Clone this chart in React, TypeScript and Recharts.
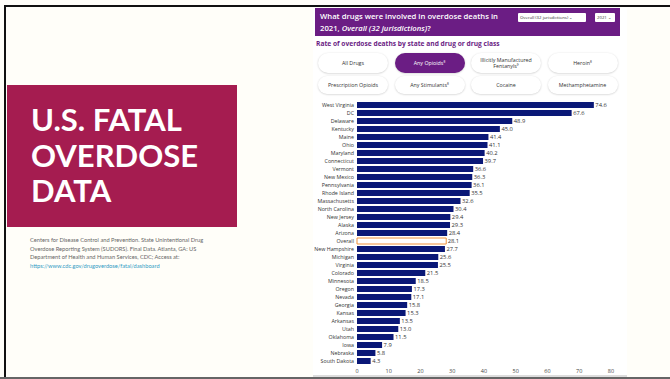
import React from "react";
import { BarChart, Bar, XAxis, YAxis, Cell, LabelList } from "recharts";

const states = [
  "West Virginia", "DC", "Delaware", "Kentucky", "Maine", "Ohio", "Maryland",
  "Connecticut", "Vermont", "New Mexico", "Pennsylvania", "Rhode Island",
  "Massachusetts", "North Carolina", "New Jersey", "Alaska", "Arizona", "Overall",
  "New Hampshire", "Michigan", "Virginia", "Colorado", "Minnesota", "Oregon",
  "Nevada", "Georgia", "Kansas", "Arkansas", "Utah", "Oklahoma", "Iowa",
  "Nebraska", "South Dakota",
];

const rates = [
  74.6, 67.6, 48.9, 45.0, 41.4, 41.1, 40.2, 39.7, 36.6, 36.3, 36.1, 35.5, 32.6,
  30.4, 29.4, 29.3, 28.4, 28.1, 27.7, 25.6, 25.5, 21.5, 18.5, 17.3, 17.1, 15.8,
  15.3, 13.5, 13.0, 11.5, 7.9, 5.8, 4.3,
];

const xTicks = [0, 10, 20, 30, 40, 50, 60, 70, 80];

const buttons = [
  ["All Drugs", "Any Opioids⁸", "Illicitly Manufactured\nFentanyls⁹", "Heroin⁸"],
  ["Prescription Opioids", "Any Stimulants⁸", "Cocaine", "Methamphetamine"],
];

const data = states.map((s, i) => ({ state: s, rate: rates[i] }));

const NAVY = "#0a1877";
const PURPLE = "#6b1d84";

const StateTick = ({ x, y, payload }: any) => (
  <text x={x} y={y} dy={2} textAnchor="end" fontSize={5.3} fill="#333">
    {payload.value}
  </text>
);

export default function App() {
  return (
    <div
      style={{
        position: "fixed",
        left: 0,
        top: 0,
        width: 670,
        height: 379,
        background: "#fffef9",
        overflow: "hidden",
        fontFamily: "'Open Sans', sans-serif",
      }}
    >
      {/* slide frame */}
      <div style={{ position: "absolute", left: 4, top: 5, width: 666, height: 2, background: "#111" }} />
      <div style={{ position: "absolute", left: 4, top: 5, width: 2, height: 372, background: "#111" }} />
      <div style={{ position: "absolute", left: 0, top: 377, width: 670, height: 2, background: "#666" }} />

      {/* title block */}
      <div
        style={{
          position: "absolute",
          left: 7,
          top: 85,
          width: 230,
          height: 142,
          background: "#a51c50",
        }}
      />
      <div
        style={{
          position: "absolute",
          left: 31,
          top: 102,
          color: "#fff",
          fontFamily: "Lato, sans-serif",
          fontWeight: 700,
          fontSize: 31,
          lineHeight: "35.5px",
        }}
      >
        U.S. FATAL
        <br />
        OVERDOSE
        <br />
        DATA
      </div>
      <div
        style={{
          position: "absolute",
          left: 30,
          top: 236,
          width: 200,
          color: "#666",
          fontFamily: "Lato, sans-serif",
          fontSize: 5.7,
          lineHeight: "8.7px",
        }}
      >
        Centers for Disease Control and Prevention. State Unintentional Drug
        <br />
        Overdose Reporting System (SUDORS). Final Data. Atlanta, GA: US
        <br />
        Department of Health and Human Services, CDC; Access at:
        <br />
        <span style={{ color: "#2f9bc4" }}>https://www.cdc.gov/drugoverdose/fatal/dashboard</span>
      </div>

      {/* dashboard screenshot */}
      <div style={{ position: "absolute", left: 313, top: 8, width: 314, height: 369, background: "#fff" }} />
      <div style={{ position: "absolute", left: 313, top: 375, width: 314, height: 2, background: "#ddd" }} />
      <div
        style={{
          position: "absolute",
          left: 315,
          top: 8,
          width: 305,
          height: 28,
          background: PURPLE,
        }}
      />
      <div
        style={{
          position: "absolute",
          left: 320,
          top: 9.5,
          color: "#fff",
          fontSize: 7.7,
          fontWeight: 600,
          lineHeight: "12.5px",
          whiteSpace: "nowrap",
        }}
      >
        What drugs were involved in overdose deaths in
        <br />
        2021, <i>Overall (32 jurisdictions)</i>?
      </div>
      <div
        style={{
          position: "absolute",
          left: 518,
          top: 13,
          width: 68,
          height: 9,
          background: "#fff",
          borderRadius: 1,
          fontSize: 4.3,
          lineHeight: "9px",
          color: "#333",
          paddingLeft: 2,
          boxSizing: "border-box",
          whiteSpace: "nowrap",
        }}
      >
        Overall (32 jurisdictions) ⌄
      </div>
      <div
        style={{
          position: "absolute",
          left: 595,
          top: 13,
          width: 20,
          height: 9,
          background: "#fff",
          borderRadius: 1,
          fontSize: 4.3,
          lineHeight: "9px",
          color: "#333",
          paddingLeft: 2,
          boxSizing: "border-box",
        }}
      >
        2021 ⌄
      </div>
      <div
        style={{
          position: "absolute",
          left: 316,
          top: 39,
          color: PURPLE,
          fontSize: 6.65,
          fontWeight: 700,
          whiteSpace: "nowrap",
          lineHeight: "10px",
        }}
      >
        Rate of overdose deaths by state and drug or drug class
      </div>
      {buttons.map((row, r) =>
        row.map((label, c) => {
          const active = r === 0 && c === 1;
          return (
            <div
              key={label}
              style={{
                position: "absolute",
                left: 318 + c * 76.5,
                top: r === 0 ? 53 : 76,
                width: 70,
                height: r === 0 ? 20 : 18,
                borderRadius: 10,
                background: active ? PURPLE : "#fff",
                color: active ? "#fff" : "#333",
                boxShadow: "0 0.5px 2px rgba(0,0,0,0.2)",
                fontSize: 5.3,
                lineHeight: "6.5px",
                display: "flex",
                alignItems: "center",
                justifyContent: "center",
                textAlign: "center",
                whiteSpace: "pre-line",
              }}
            >
              {label}
            </div>
          );
        })
      )}

      <div style={{ position: "absolute", left: 300, top: 92 }}>
        <BarChart
          width={327}
          height={285}
          data={data}
          layout="vertical"
          margin={{ top: 9, right: 16, bottom: 0, left: 0 }}
        >
          <XAxis
            type="number"
            domain={[0, 80]}
            ticks={xTicks}
            axisLine={false}
            tickLine={false}
            tickSize={0}
            tickMargin={4}
            height={12}
            tick={{ fontSize: 5.5, fill: "#444" }}
            interval={0}
          />
          <YAxis
            type="category"
            dataKey="state"
            width={57}
            axisLine={false}
            tickLine={false}
            tickSize={0}
            tickMargin={3}
            interval={0}
            tick={<StateTick />}
          />
          <Bar dataKey="rate" barSize={6} isAnimationActive={false}>
            {data.map((d) => (
              <Cell
                key={d.state}
                fill={d.state === "Overall" ? "#fff" : NAVY}
                stroke={d.state === "Overall" ? "#f0913a" : "none"}
                strokeWidth={d.state === "Overall" ? 1 : 0}
              />
            ))}
            <LabelList
              dataKey="rate"
              position="right"
              offset={1.5}
              formatter={(v: number) => v.toFixed(1)}
              style={{ fontSize: 5.8, fill: "#333" }}
            />
          </Bar>
        </BarChart>
      </div>
    </div>
  );
}
